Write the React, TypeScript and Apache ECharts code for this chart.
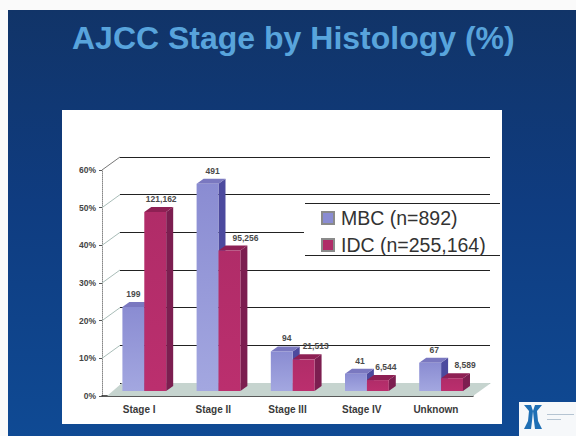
import React, { useEffect, useRef } from "react";
import * as echarts from "echarts";

const stages = ["Stage I", "Stage II", "Stage III", "Stage IV", "Unknown"];
const mbcPercent = [22.3, 55, 10.5, 4.6, 7.5];
const idcPercent = [47.5, 37.3, 8.4, 2.9, 3.4];
const mbcCounts = ["199", "491", "94", "41", "67"];
const idcCounts = ["121,162", "95,256", "21,513", "6,544", "8,589"];
const percentTicks = [0, 10, 20, 30, 40, 50, 60];

// Horizontal nudges that keep the count labels clear of neighbouring bars.
const mbcLabelShift = [0, 5, 5, 4, 4];
const idcLabelShift = [6, 16, 12, 8, 13];

const DEPTH_X = 18;
const DEPTH_Y = 13;
const BAR_DEPTH_X = 7;
const BAR_DEPTH_Y = 5;
const LIFT = 5;

const palette = {
  mbc: { front: "#8a8cd2", frontLow: "#a3a7e0", top: "#7a78c0", side: "#4c4a9e" },
  idc: { front: "#b02c68", frontLow: "#bb2f6e", top: "#8e2054", side: "#7c1e50" },
};

function barSeries(name: string, values: number[], counts: string[], shifts: number[], side: 0 | 1, c: typeof palette.mbc) {
  return {
    type: "custom",
    name,
    xAxisIndex: 0,
    yAxisIndex: 0,
    z: 5 + side,
    itemStyle: { color: c.front, borderColor: "#8a8a8a", borderWidth: 1 },
    data: values.map((v, i) => [i, v, counts[i], shifts[i]]),
    renderItem: (_: any, api: any) => {
      const band = api.size([1, 0])[0];
      const w = band * 0.295;
      const base = api.coord([api.value(0), 0]);
      const top = api.coord([api.value(0), api.value(1)]);
      const x0 = base[0] + band * 0.07 - w + side * w;
      const x1 = x0 + w;
      const yb = base[1] - LIFT;
      const yt = top[1] - LIFT;
      const dx = BAR_DEPTH_X;
      const dy = BAR_DEPTH_Y;
      return {
        type: "group",
        children: [
          {
            type: "polygon",
            shape: { points: [[x1, yt], [x1 + dx, yt - dy], [x1 + dx, yb - dy], [x1, yb]] },
            style: { fill: c.side },
          },
          {
            type: "polygon",
            shape: { points: [[x0, yt], [x1, yt], [x1 + dx, yt - dy], [x0 + dx, yt - dy]] },
            style: { fill: c.top },
          },
          {
            type: "rect",
            shape: { x: x0, y: yt, width: w, height: yb - yt },
            style: {
              fill: new echarts.graphic.LinearGradient(0, 0, 0, 1, [
                { offset: 0, color: c.front },
                { offset: 1, color: c.frontLow },
              ]),
            },
          },
          {
            type: "text",
            style: {
              text: String(api.value(2)),
              x: (x0 + x1) / 2 + Number(api.value(3)),
              y: yt - 13,
              align: "center",
              verticalAlign: "middle",
              fontFamily: "Liberation Sans",
              fontWeight: "bold",
              fontSize: 8.5,
              fill: "#4a4a4a",
            },
          },
        ],
      };
    },
  };
}

// Floor and the receding lines that join the front axis to the back wall.
const wallSeries = {
  type: "custom",
  xAxisIndex: 0,
  yAxisIndex: 0,
  z: 2,
  silent: true,
  data: percentTicks.map((t) => [0, t]),
  renderItem: (params: any, api: any) => {
    const rect = params.coordSys;
    const y = api.coord([0, api.value(1)])[1];
    const left = rect.x;
    const right = rect.x + rect.width;
    const children: any[] = [];
    if (api.value(1) === 0) {
      children.push({
        type: "polygon",
        shape: {
          points: [[left + 5, y], [left + DEPTH_X + 2, y - DEPTH_Y], [right + DEPTH_X, y - DEPTH_Y], [right, y]],
        },
        style: { fill: "#c6d4cf" },
      });
    } else {
      children.push({
        type: "line",
        shape: { x1: left, y1: y, x2: left + DEPTH_X, y2: y - DEPTH_Y },
        style: { stroke: api.value(1) === 60 ? "#777777" : "#a9bdb8", lineWidth: 1 },
      });
    }
    return { type: "group", children };
  },
};

const LOGO_BLUE = "#1f6fb4";

export default function App() {
  const ref = useRef<HTMLDivElement>(null);

  useEffect(() => {
    const chart = echarts.init(ref.current!, undefined, { renderer: "svg" });
    chart.setOption({
      animation: false,
      backgroundColor: "#fafafa",
      title: {
        text: "AJCC Stage by Histology (%)",
        left: 67,
        top: 17,
        textStyle: {
          fontFamily: "Liberation Sans",
          fontWeight: "bold",
          fontSize: 32,
          color: "#58a4dc",
        },
      },
      legend: {
        orient: "vertical",
        left: 316,
        top: 203,
        itemWidth: 12,
        itemHeight: 12,
        itemGap: 7,
        icon: "rect",
        data: ["MBC (n=892)", "IDC (n=255,164)"],
        textStyle: { fontFamily: "Liberation Sans", fontSize: 19.5, color: "#333333", padding: [0, 0, 0, 2] },
      },
      grid: [
        { left: 102, top: 170, width: 371, height: 226 },
        { left: 120, top: 157, width: 370, height: 226 },
      ],
      xAxis: [
        {
          gridIndex: 0,
          type: "category",
          data: stages,
          axisTick: { show: false },
          axisLine: { lineStyle: { color: "#222222", width: 1.5 } },
          axisLabel: {
            margin: 8,
            fontFamily: "Liberation Sans",
            fontWeight: "bold",
            fontSize: 10,
            color: "#3a3a3a",
          },
        },
        { gridIndex: 1, type: "category", data: stages, show: false },
      ],
      yAxis: [
        {
          gridIndex: 0,
          type: "value",
          min: 0,
          max: 60,
          interval: 10,
          splitLine: { show: false },
          axisLine: { show: true, lineStyle: { color: "#888888", type: "dotted" } },
          axisTick: { show: true, length: 3, lineStyle: { color: "#555555" } },
          axisLabel: {
            margin: 6,
            formatter: "{value}%",
            fontFamily: "Liberation Sans",
            fontWeight: "bold",
            fontSize: 8.5,
            color: "#444444",
          },
        },
        {
          gridIndex: 1,
          type: "value",
          min: 0,
          max: 60,
          interval: 10,
          axisLine: { show: false },
          axisTick: { show: false },
          axisLabel: { show: false },
          splitLine: { show: true, lineStyle: { color: "#222222", width: 1 } },
        },
      ],
      graphic: [
        {
          type: "rect",
          z: -3,
          shape: { x: 8, y: 10, width: 568, height: 426 },
          style: {
            fill: new echarts.graphic.LinearGradient(0, 0, 0, 1, [
              { offset: 0, color: "#113468" },
              { offset: 0.45, color: "#0f3c80" },
              { offset: 1, color: "#0f4a94" },
            ]),
          },
        },
        { type: "rect", z: -2, shape: { x: 62, y: 110, width: 440, height: 314 }, style: { fill: "#ffffff" } },
        // Legend panel interrupting the back-wall rules.
        { type: "rect", z: 3, shape: { x: 304, y: 204, width: 196, height: 51 }, style: { fill: "#ffffff" } },
        { type: "line", z: 3, shape: { x1: 305, y1: 203.5, x2: 500, y2: 203.5 }, style: { stroke: "#222222", lineWidth: 1 } },
        { type: "line", z: 3, shape: { x1: 305, y1: 255.5, x2: 500, y2: 255.5 }, style: { stroke: "#222222", lineWidth: 1 } },
        // Institution logo in the corner: two flared brackets round a small ring.
        { type: "rect", z: 3, shape: { x: 519, y: 402, width: 57, height: 34 }, style: { fill: "#f6f8fa" } },
        {
          type: "polygon",
          z: 4,
          shape: { points: [[524, 405], [531, 405], [533, 411], [532, 421], [531, 429], [524, 429], [528, 421], [529, 411]] },
          style: { fill: LOGO_BLUE },
        },
        {
          type: "polygon",
          z: 4,
          shape: { points: [[542, 405], [535, 405], [533, 411], [534, 421], [535, 429], [542, 429], [538, 421], [537, 411]] },
          style: { fill: LOGO_BLUE },
        },
        { type: "rect", z: 4, shape: { x: 547, y: 414, width: 27, height: 1 }, style: { fill: "#b5c4d2" } },
        { type: "rect", z: 4, shape: { x: 547, y: 419, width: 14, height: 1 }, style: { fill: "#b5c4d2" } },
      ],
      series: [
        wallSeries,
        barSeries("MBC (n=892)", mbcPercent, mbcCounts, mbcLabelShift, 0, palette.mbc),
        barSeries("IDC (n=255,164)", idcPercent, idcCounts, idcLabelShift, 1, palette.idc),
      ],
    });
    return () => chart.dispose();
  }, []);

  return <div ref={ref} style={{ position: "fixed", left: 0, top: 0, width: 576, height: 436 }} />;
}
